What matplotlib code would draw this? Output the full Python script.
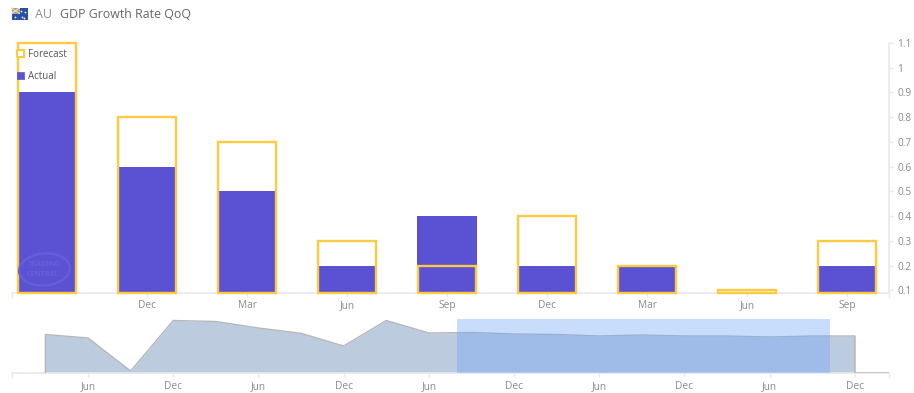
import matplotlib
matplotlib.use("Agg")
import matplotlib.pyplot as plt
from matplotlib.patches import Patch, Rectangle, Ellipse

plt.rcParams['font.family'] = ['Open Sans', 'DejaVu Sans']

W, H = 914, 393
DPI = 100

# Main chart data
categories = ['', 'Dec', 'Mar', 'Jun', 'Sep', 'Dec', 'Mar', 'Jun', 'Sep']
forecast = [1.1, 0.8, 0.7, 0.3, 0.2, 0.4, 0.2, 0.1, 0.3]
actual = [0.9, 0.6, 0.5, 0.2, 0.4, 0.2, 0.2, float('nan'), 0.2]
y_ticks = [0.1, 0.2, 0.3, 0.4, 0.5, 0.6, 0.7, 0.8, 0.9, 1, 1.1]
y_labels = ['0.1', '0.2', '0.3', '0.4', '0.5', '0.6', '0.7', '0.8', '0.9', '1', '1.1']
y_base = 0.091

# Navigator data (height of the miniature series, one value per quarter)
nav_values = [38.5, 35, 2, 52.5, 51.5, 45, 39.7, 27, 52.5, 40,
              40.5, 39, 38.5, 37, 38, 37, 37, 36, 37, 37]
nav_tick_pos = [1, 3, 5, 7, 9, 11, 13, 15, 17, 19]
nav_tick_labels = ['Jun', 'Dec', 'Jun', 'Dec', 'Jun', 'Dec', 'Jun', 'Dec', 'Jun', 'Dec']
nav_selection = (9.65, 18.41)

BAR = '#5a52d3'
YEL = '#fdca40'
AXC = '#e9e9ee'
TXT = '#8a8a8a'


def axes_px(x0, x1, y0, y1):
    return fig.add_axes([x0 / W, 1 - y1 / H, (x1 - x0) / W, (y1 - y0) / H])


fig = plt.figure(figsize=(W / DPI, H / DPI), dpi=DPI, facecolor='white')

# ---- main chart
ax = axes_px(12, 889, 43, 292.7)
x = list(range(len(categories)))
ax.bar(x, [v - y_base for v in actual], bottom=y_base, width=0.60, color=BAR, linewidth=0, zorder=2)
ax.bar(x, [v - y_base for v in forecast], bottom=y_base, width=0.585, facecolor='none',
       edgecolor=YEL, linewidth=1.7, zorder=3)
ax.set_xlim(-0.35, 8.42)
ax.set_ylim(y_base, 1.1)
ax.set_xticks(x[1:])
ax.set_xticklabels(categories[1:])
ax.set_yticks(y_ticks)
ax.set_yticklabels(y_labels)
ax.yaxis.tick_right()
ax.tick_params(axis='x', length=3, width=1, color=AXC, labelcolor=TXT, labelsize=7.3, pad=8)
ax.tick_params(axis='y', length=3, width=1, color=AXC, labelcolor=TXT, labelsize=7.3, pad=3)
for lab in ax.get_xticklabels():
    lab.set_va('baseline')
for s in ['top', 'left']:
    ax.spines[s].set_visible(False)
for s in ['bottom', 'right']:
    ax.spines[s].set_color(AXC)
    ax.spines[s].set_linewidth(1.2)
ax.spines['bottom'].set_zorder(1)
for b in ax.patches:
    b.set_clip_on(False)

handles = [Patch(facecolor='white', edgecolor=YEL, linewidth=1.5, label='Forecast'),
           Patch(facecolor=BAR, edgecolor=BAR, linewidth=0.5, label='Actual')]
leg = ax.legend(handles=handles, loc='upper left', bbox_to_anchor=(0 / 877, 1 - 1 / 250),
                frameon=False, fontsize=7, handlelength=0.72, handleheight=0.72,
                handletextpad=0.38, labelspacing=1.05, borderaxespad=0, borderpad=0.55)
for t in leg.get_texts():
    t.set_color('#555555')

# ---- navigator
nav = axes_px(12, 889, 319, 373)
nx = list(range(len(nav_values)))
nav.fill_between(nx, 0, nav_values, color='#bccbde', linewidth=0, zorder=2)
nav.plot([nx[0]] + nx + [nx[-1], 19.8], [0] + nav_values + [0, 0], color='#b4b7bc', lw=1.0, zorder=3)
nav.axvspan(nav_selection[0], nav_selection[1], color='#6ea6f7', alpha=0.38, linewidth=0, zorder=4)
nav.set_xlim(-0.784, 19.8)
nav.set_ylim(0, 54)
nav.set_xticks(nav_tick_pos)
nav.set_xticklabels(nav_tick_labels)
nav.set_yticks([])
nav.tick_params(axis='x', length=3, width=1, color=AXC, labelcolor=TXT, labelsize=7.3, pad=8.5)
for lab in nav.get_xticklabels():
    lab.set_va('baseline')
for s in ['top', 'left', 'right']:
    nav.spines[s].set_visible(False)
nav.spines['bottom'].set_color(AXC)
nav.spines['bottom'].set_linewidth(1.2)

# ---- overlay for decoration (pixel coordinates)
ov = fig.add_axes([0, 0, 1, 1], zorder=5)
ov.set_xlim(0, W)
ov.set_ylim(H, 0)
ov.axis('off')
ov.patch.set_alpha(0)

# end ticks on axes
ov.plot([12, 12], [293, 297], color=AXC, lw=1)
ov.plot([889, 889], [293, 297], color=AXC, lw=1)
ov.plot([12, 12], [373, 377], color=AXC, lw=1)
ov.plot([889, 889], [373, 377], color=AXC, lw=1)

# flag
ov.add_patch(Rectangle((11.5, 8), 16.5, 11.5, facecolor='#2a4fa8', edgecolor='none'))
ov.add_patch(Rectangle((11.5, 8), 8, 5.5, facecolor='#a8a090', edgecolor='none'))
ov.plot([11.5, 19.5], [8, 13.5], color='#f0d8a0', lw=0.8)
ov.plot([11.5, 19.5], [13.5, 8], color='#f0e8d8', lw=0.8)
ov.scatter([15, 22, 25, 24, 21], [17, 16.5, 12, 17.5, 11], s=1.6, color='white', linewidths=0)

ov.text(35, 14, 'AU', fontsize=9, color='#909090', va='center', ha='left')
ov.text(59.5, 14, 'GDP Growth Rate QoQ', fontsize=8.95, color='#666666', va='center', ha='left')

# watermark
wm = '#6660d8'
ov.add_patch(Ellipse((44.5, 269.5), 51, 32, angle=-5, facecolor='none', edgecolor=wm, lw=1.6))
ov.text(44, 265, 'TRADING', fontsize=5.2, fontweight='bold', color=wm, ha='center', va='center')
ov.text(43, 274, 'CENTRAL', fontsize=5.2, fontweight='bold', color=wm, ha='center', va='center')

fig.savefig('out.png', dpi=DPI, facecolor='white')
